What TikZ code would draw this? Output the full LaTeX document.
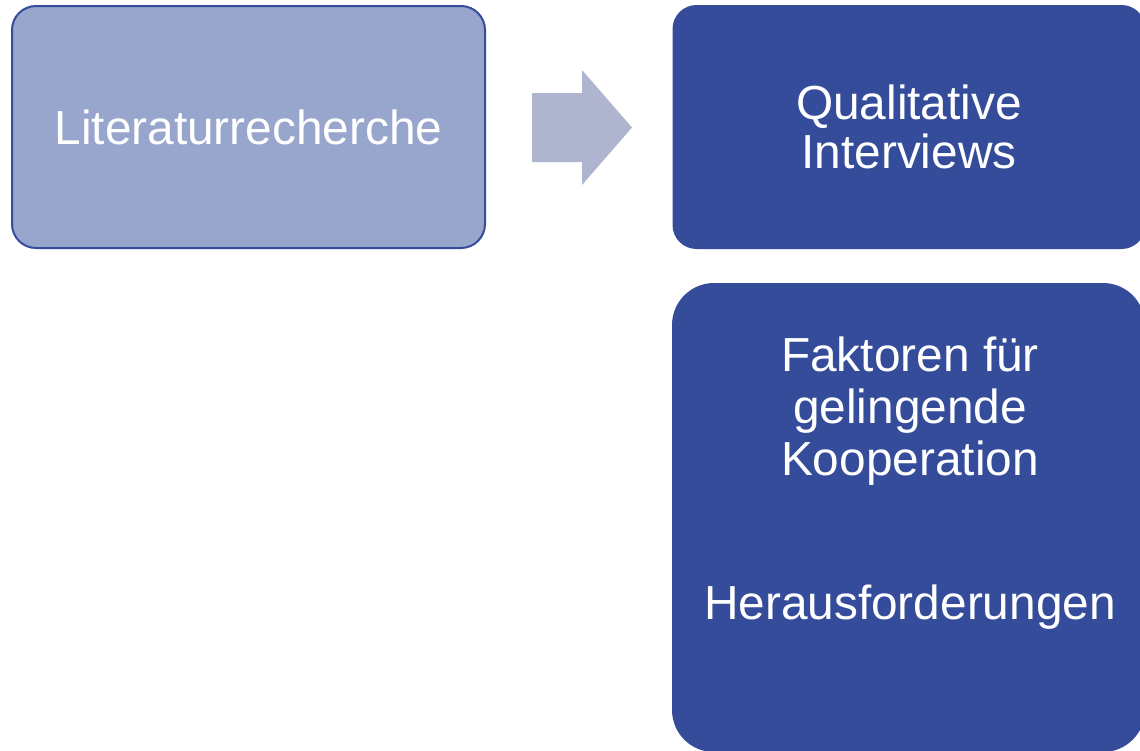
\documentclass[tikz,border=0pt]{standalone}
\usepackage{fontspec}
\setmainfont{Liberation Sans}
\usepackage{tikz}

\definecolor{lightblue}{RGB}{152,165,205}
\definecolor{darkblue}{RGB}{53,76,155}
\definecolor{arrowgray}{RGB}{175,180,207}

\begin{document}
\begin{tikzpicture}[x=0.5pt,y=-0.5pt]
% Box style
\tikzset{
    box/.style={rectangle, rounded corners=12pt, minimum width=236.5pt,
        minimum height=121pt, inner sep=0pt, align=center, text=white,
        font=\fontsize{23.9}{24.5}\selectfont},
    lightbox/.style={box, fill=lightblue, draw=darkblue, line width=1pt},
    darkbox/.style={box, fill=darkblue}
}
\useasboundingbox (0,0) rectangle (1140,750);
% Boxes
\node[lightbox] (lit) at (248.5,127){Literaturrecherche};
\node[darkbox, minimum height=122pt] (int) at (909,127){Qualitative\\Interviews};
\node[darkbox, minimum height=234.5pt, rounded corners=21pt] (res) at (908.5,517.5){};
\node[align=center, text=white, inner sep=0pt,
    font=\fontsize{23.9}{26}\selectfont] (restext) at (910,483)
    {Faktoren für\\gelingende\\Kooperation\\[46pt]Herausforderungen};
% Arrow
\fill[arrowgray] (532,93) -- (582,93) -- (582,70) -- (632,127.5)
    -- (582,185) -- (582,162) -- (532,162) -- cycle;
\end{tikzpicture}
\end{document}
